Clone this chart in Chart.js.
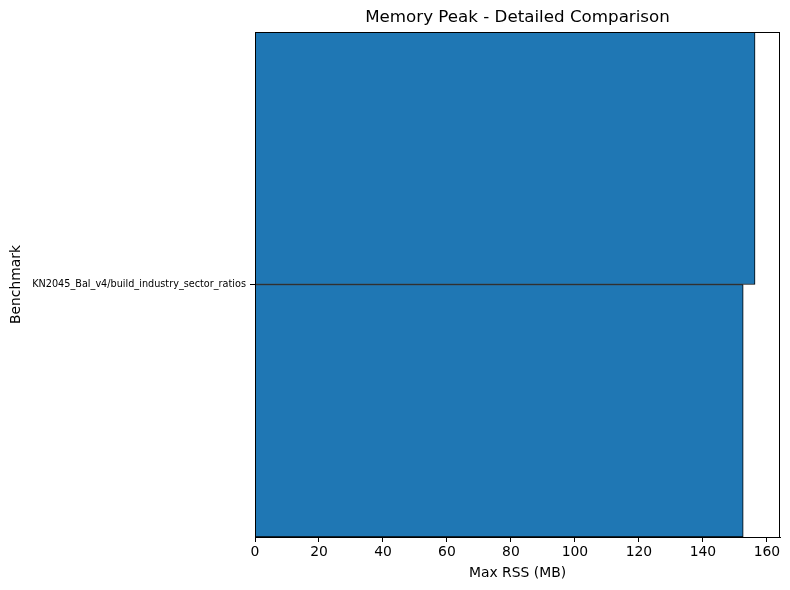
<!DOCTYPE html>
<html>
<head>
<meta charset="utf-8">
<title>Memory Peak - Detailed Comparison</title>
<script src="https://cdn.jsdelivr.net/npm/chart.js@4/dist/chart.umd.min.js"></script>
<style>
    html, body { margin: 0; padding: 0; background: #ffffff; }
    #chart { display: block; }
</style>
</head>
<body>
<canvas id="chart" width="790" height="590"></canvas>
<script>
// benchmark names and the two runs being compared
const benchmarks = ['KN2045_Bal_v4/build_industry_sector_ratios'];
const runUpper = [156.3];
const runLower = [152.6];
const xTicks = [0, 20, 40, 60, 80, 100, 120, 140, 160];
const xMax = 164.1;

const FONT = "'DejaVu Sans', sans-serif";
const barBlue = '#1f77b4';

// matplotlib draws all four spines, chart.js only two
const frameBox = {
    id: 'frameBox',
    afterDraw(chart) {
        const { ctx, chartArea } = chart;
        ctx.save();
        ctx.strokeStyle = '#000000';
        ctx.lineWidth = 1;
        ctx.strokeRect(Math.round(chartArea.left) + 0.5, Math.round(chartArea.top) + 0.5,
            Math.round(chartArea.right - chartArea.left) - 1, Math.round(chartArea.bottom - chartArea.top));
        ctx.restore();
    }
};

new Chart(document.getElementById('chart'), {
    type: 'bar',
    data: {
        labels: benchmarks,
        datasets: [
            {
                label: 'Run A',
                data: runUpper,
                backgroundColor: barBlue,
                borderColor: '#000000',
                borderWidth: 1,
                categoryPercentage: 1.0,
                barPercentage: 1.0
            },
            {
                label: 'Run B',
                data: runLower,
                backgroundColor: barBlue,
                borderColor: '#000000',
                borderWidth: 1,
                categoryPercentage: 1.0,
                barPercentage: 1.0
            }
        ]
    },
    options: {
        indexAxis: 'y',
        responsive: false,
        animation: false,
        layout: { padding: { left: 0, right: 10, top: 0, bottom: 0 } },
        plugins: {
            legend: { display: false },
            tooltip: { enabled: false },
            title: {
                display: true,
                fullSize: false,
                text: 'Memory Peak - Detailed Comparison',
                color: '#000000',
                font: { family: FONT, size: 16.7, weight: 'normal' },
                padding: { top: 8, bottom: 4 }
            }
        },
        scales: {
            x: {
                min: 0,
                max: xMax,
                afterBuildTicks: (scale) => {
                    scale.ticks = xTicks.map(v => ({ value: v }));
                },
                afterFit: (scale) => { scale.height = 53; },
                grid: {
                    drawOnChartArea: false,
                    drawTicks: true,
                    tickLength: 5,
                    color: '#000000'
                },
                border: { color: '#000000', width: 1 },
                ticks: {
                    color: '#000000',
                    padding: 2,
                    maxRotation: 0,
                    font: { family: FONT, size: 13.9 }
                },
                title: {
                    display: true,
                    text: 'Max RSS (MB)',
                    color: '#000000',
                    font: { family: FONT, size: 13.9 },
                    padding: { top: 0, bottom: 8 }
                }
            },
            y: {
                afterFit: (scale) => { scale.width = 255; },
                grid: {
                    offset: false,
                    drawOnChartArea: false,
                    drawTicks: true,
                    tickLength: 5,
                    color: '#000000'
                },
                border: { color: '#000000', width: 1 },
                ticks: {
                    color: '#000000',
                    padding: 4,
                    font: { family: FONT, size: 9.7 }
                },
                title: {
                    display: true,
                    text: 'Benchmark',
                    color: '#000000',
                    font: { family: FONT, size: 13.9 },
                    padding: { top: 8, bottom: 0 }
                }
            }
        }
    },
    plugins: [frameBox]
});
</script>
</body>
</html>
